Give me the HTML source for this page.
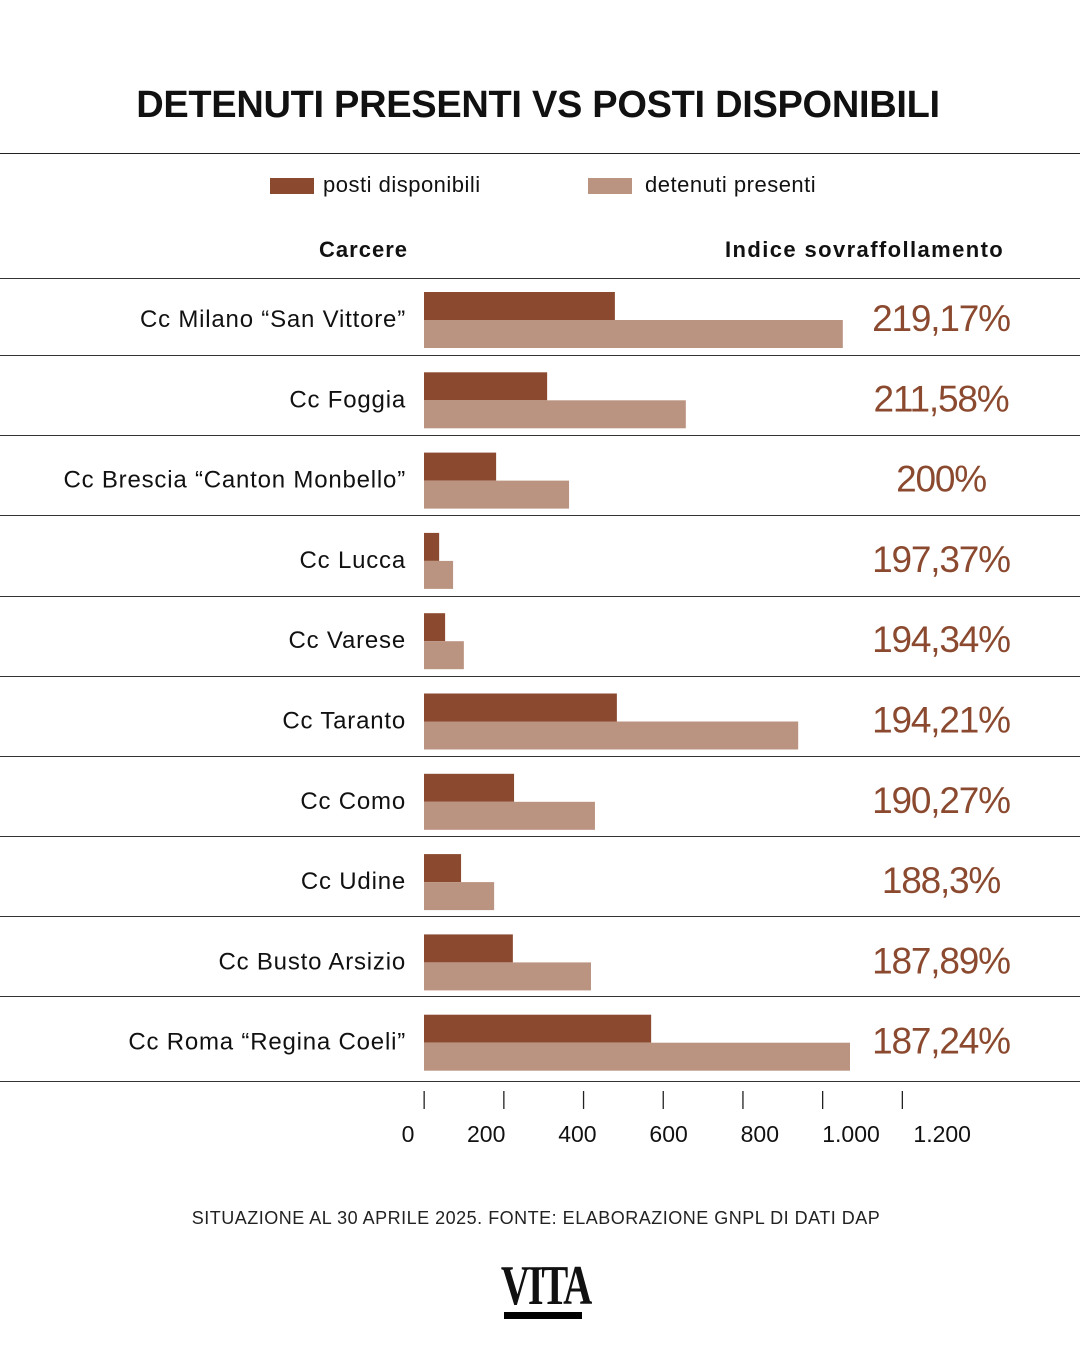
<!DOCTYPE html>
<html><head><meta charset="utf-8"><style>
body{margin:0;width:1080px;height:1350px;background:#fff;font-family:"Liberation Sans",sans-serif;position:relative;overflow:hidden;color:#111}
.abs{position:absolute}
</style></head><body>
<div class="abs" style="left:0;width:1076px;top:84px;text-align:center;font-size:38px;font-weight:bold;letter-spacing:-0.3px">DETENUTI PRESENTI VS POSTI DISPONIBILI</div>
<div class="abs" style="left:0;top:153px;width:1080px;height:1px;background:#222"></div>
<div class="abs" style="left:270px;top:172px;font-size:22px;letter-spacing:0.5px"><span style="display:inline-block;width:44px;height:16px;background:#8b4a2f;vertical-align:-2px;margin-right:9px"></span>posti disponibili</div>
<div class="abs" style="left:588px;top:172px;font-size:22px;letter-spacing:0.5px"><span style="display:inline-block;width:44px;height:16px;background:#bb9381;vertical-align:-2px;margin-right:13px"></span>detenuti presenti</div>
<div class="abs" style="right:672px;top:237px;font-size:22px;font-weight:bold;letter-spacing:1px">Carcere</div>
<div class="abs" style="left:725px;top:237px;font-size:22px;font-weight:bold;letter-spacing:1.4px">Indice sovraffollamento</div>
<svg id="chart" class="abs" style="left:0;top:0" width="1080" height="1180"></svg>
<div class="abs" style="left:0;width:1072px;top:1208px;text-align:center;font-size:18px;color:#222;letter-spacing:0.5px">SITUAZIONE AL 30 APRILE 2025. FONTE: ELABORAZIONE GNPL DI DATI DAP</div>
<div class="abs" style="left:488px;top:1262px;width:92px;text-align:center">
<div style="font-family:'Liberation Serif',serif;font-weight:bold;font-size:56px;line-height:48px;transform:scaleX(0.72);letter-spacing:-3px">VITA</div>
<div style="height:7px;background:#000;margin:2px -2px 0 16px"></div></div>
<script>
const categories=["Cc Milano “San Vittore”","Cc Foggia","Cc Brescia “Canton Monbello”","Cc Lucca","Cc Varese","Cc Taranto","Cc Como","Cc Udine","Cc Busto Arsizio","Cc Roma “Regina Coeli”"];
const posti=[479,309,181,38,53,484,226,93,223,570];
const detenuti=[1051,657,364,73,100,939,429,176,419,1069];
const indice=["219,17%","211,58%","200%","197,37%","194,34%","194,21%","190,27%","188,3%","187,89%","187,24%"];
const ticks=[0,200,400,600,800,1000,1200];
const tickLabels=["0","200","400","600","800","1.000","1.200"];
const NS="http://www.w3.org/2000/svg";
const svg=document.getElementById('chart');
const x=v=>424+v*0.3985;
const lx=v=>v===0?408:395+v*0.456;
const rowTop=i=>278+i*80.3;
function mk(t,a){const e=document.createElementNS(NS,t);for(const k in a)e.setAttribute(k,a[k]);svg.appendChild(e);return e;}
[278,355,435,515,596,676,756,836,916,996,1081].forEach(y=>{
 const l=mk('rect',{x:0,y:y,width:1080,height:1,fill:'#333'});
 
 
});
categories.forEach((c,i)=>{
 const top=rowTop(i)+14;
 const b1=mk('rect',{x:x(0),y:top,width:x(posti[i])-x(0),height:28,fill:'#8b4a2f'});
 
 
 const b2=mk('rect',{x:x(0),y:top+28,width:x(detenuti[i])-x(0),height:28,fill:'#bb9381'});
 
 
 const t=mk('text',{x:406,y:top+35,'text-anchor':'end','font-size':24,'letter-spacing':0.8,fill:'#111','font-family':'Liberation Sans, sans-serif'});
 t.textContent=c;
 
 
 const p=mk('text',{x:941,y:top+39,'text-anchor':'middle','font-size':37,'letter-spacing':-1.2,fill:'#8b4a2f','font-family':'Liberation Sans, sans-serif'});
 p.textContent=indice[i];
 
 
});
ticks.forEach((v,i)=>{
 const tk=mk('rect',{x:x(v)-0.5,y:1091,width:1.3,height:18,fill:'#222'});
 
 
 const tl=mk('text',{x:lx(v),y:1142,'text-anchor':'middle','font-size':23,fill:'#111','font-family':'Liberation Sans, sans-serif'});
 tl.textContent=tickLabels[i];
 
 
});
</script>
</body></html>
